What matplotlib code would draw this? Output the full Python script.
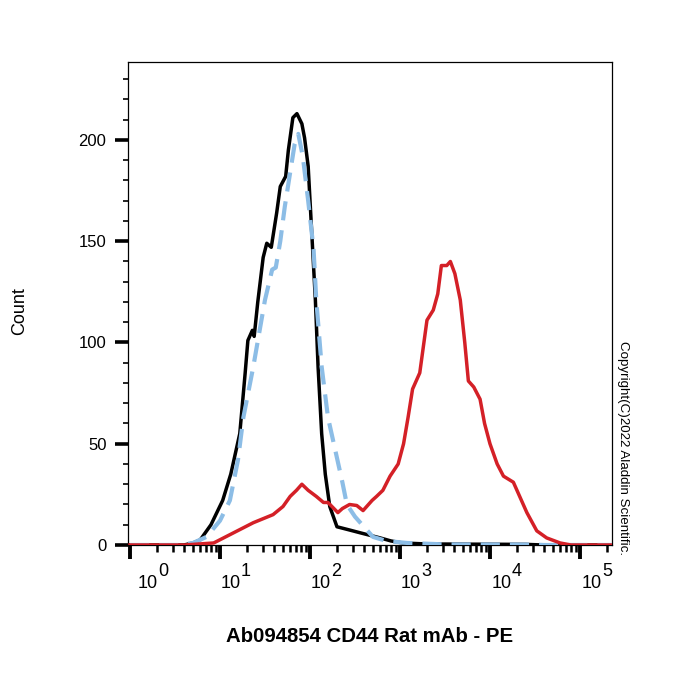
import numpy as np
import matplotlib
matplotlib.use("Agg")
import matplotlib.pyplot as plt
from matplotlib.ticker import FixedLocator, LogLocator, NullFormatter, MultipleLocator

plt.rcParams['font.family'] = ['Liberation Sans', 'DejaVu Sans']

# ---- data (x in decades of fluorescence, y = count) ----
black_log = [0.0, 0.6, 0.7, 0.78, 0.9, 1.03, 1.12, 1.22, 1.28, 1.31, 1.36, 1.38, 1.42, 1.48,
             1.52, 1.57, 1.63, 1.67, 1.73, 1.76, 1.81, 1.855, 1.91, 1.94, 1.98, 2.02, 2.06,
             2.09, 2.13, 2.17, 2.22, 2.3, 2.44, 2.56, 2.78, 2.9, 3.03, 3.3, 4.4, 4.6, 5.36]
black_cnt = [0, 0, 1, 2.5, 10, 22, 35, 55, 85, 101, 106, 103, 120, 142,
             149, 147, 164, 177, 182, 195, 211, 213, 208, 201, 187, 154, 121,
             88, 55, 35, 19, 9, 7.4, 6, 3.5, 2, 1, 0.5, 0.3, 0, 0]

blue_log = [0.0, 0.55, 0.7, 0.85, 1.0, 1.11, 1.2, 1.26, 1.37, 1.5, 1.58, 1.62, 1.67, 1.72,
            1.78, 1.83, 1.87, 1.92, 1.98, 2.04, 2.07, 2.13, 2.2, 2.28, 2.36, 2.41, 2.5,
            2.56, 2.7, 2.85, 3.08, 3.5, 4.5, 4.6, 5.36]
blue_cnt = [0, 0, 1, 4, 12, 22, 42, 63, 88, 121, 136, 137, 150, 167,
            184, 198, 203, 192, 170, 146, 121, 88, 63, 47, 31, 20, 14,
            11, 4, 2, 1, 0.3, 0.2, 0, 0]

red_log = [0.0, 0.6, 0.93, 1.15, 1.37, 1.59, 1.7, 1.78, 1.85, 1.91, 1.98, 2.07, 2.15, 2.2,
           2.31, 2.36, 2.44, 2.52, 2.59, 2.69, 2.74, 2.81, 2.89, 2.98, 3.04, 3.09, 3.14,
           3.22, 3.3, 3.37, 3.42, 3.46, 3.52, 3.56, 3.61, 3.67, 3.72, 3.76, 3.82, 3.89,
           3.94, 4.0, 4.08, 4.15, 4.26, 4.33, 4.41, 4.52, 4.63, 4.78, 4.9, 5.36]
red_cnt = [0, 0, 1, 6, 11, 15, 19, 24, 27, 30, 27, 24, 21, 21,
           16, 18, 20, 19.5, 17, 22, 24, 27, 34, 40, 50, 63, 77,
           85, 111, 116, 124, 138, 138, 140, 134, 121, 100, 81, 78, 72,
           60, 50, 40, 34, 31, 24, 16, 7, 3.5, 1, 0, 0]

y_ticks = [0, 50, 100, 150, 200]
x_decades = [0, 1, 2, 3, 4, 5]
x_label = "Ab094854 CD44 Rat mAb - PE"
y_label = "Count"
copyright_text = "Copyright(C)2022 Aladdin Scientific."

# ---- figure ----
W, H = 700, 700
fig = plt.figure(figsize=(7, 7), dpi=100)
L, R, T, B = 128, 612, 62, 545
ax = fig.add_axes([L / W, 1 - B / H, (R - L) / W, (B - T) / H])

ax.plot(10 ** np.array(black_log), black_cnt, color='black', lw=2.5, zorder=3,
        solid_joinstyle='round')
ax.plot(10 ** np.array(blue_log), blue_cnt, color='#8cbde6', lw=3.0, zorder=4,
        dashes=(4.6, 2.4))
ax.plot(10 ** np.array(red_log), red_cnt, color='#d42027', lw=2.5, zorder=5,
        solid_joinstyle='round')

ax.set_xscale('log')
ax.set_xlim(10 ** -0.022, 10 ** 5.356)
ax.set_ylim(0, 238.5)

for s in ax.spines.values():
    s.set_linewidth(0.9)

# y ticks
ax.yaxis.set_major_locator(FixedLocator(y_ticks))
ax.yaxis.set_minor_locator(MultipleLocator(10))
ax.tick_params(axis='y', which='major', length=9.5, width=2.6, labelsize=12, pad=6)
ax.tick_params(axis='y', which='minor', length=3.8, width=1.2)

# x ticks
ax.xaxis.set_major_locator(FixedLocator([10.0 ** d for d in x_decades]))
ax.xaxis.set_minor_locator(LogLocator(base=10, subs=np.arange(2, 10), numticks=20))
ax.xaxis.set_major_formatter(NullFormatter())
ax.xaxis.set_minor_formatter(NullFormatter())
ax.tick_params(axis='x', which='major', length=10, width=2.8)
ax.tick_params(axis='x', which='minor', length=5, width=1.8)

# custom x tick labels: "10" with a full-size exponent
px = 0.72
offsets = [18, 11, 11, 11, 12, 12]
for d, off in zip(x_decades, offsets):
    ax.annotate("10", xy=(10.0 ** d, 0), xycoords=('data', 'axes fraction'),
                xytext=(off * px, -38 * px), textcoords='offset points',
                ha='center', va='center', fontsize=13)
    ax.annotate(str(d), xy=(10.0 ** d, 0), xycoords=('data', 'axes fraction'),
                xytext=((off + 15) * px, -26 * px), textcoords='offset points',
                ha='center', va='center', fontsize=13)

fig.text(370 / W, 1 - 636 / H, x_label, ha='center', va='center',
         fontsize=14.7, fontweight='bold')
fig.text(20 / W, 1 - 311 / H, y_label, ha='center', va='center',
         fontsize=13, rotation=90)
fig.text(623 / W, 1 - 448 / H, copyright_text, ha='center', va='center',
         fontsize=9.6, rotation=270)

fig.savefig('out.png', dpi=100)
